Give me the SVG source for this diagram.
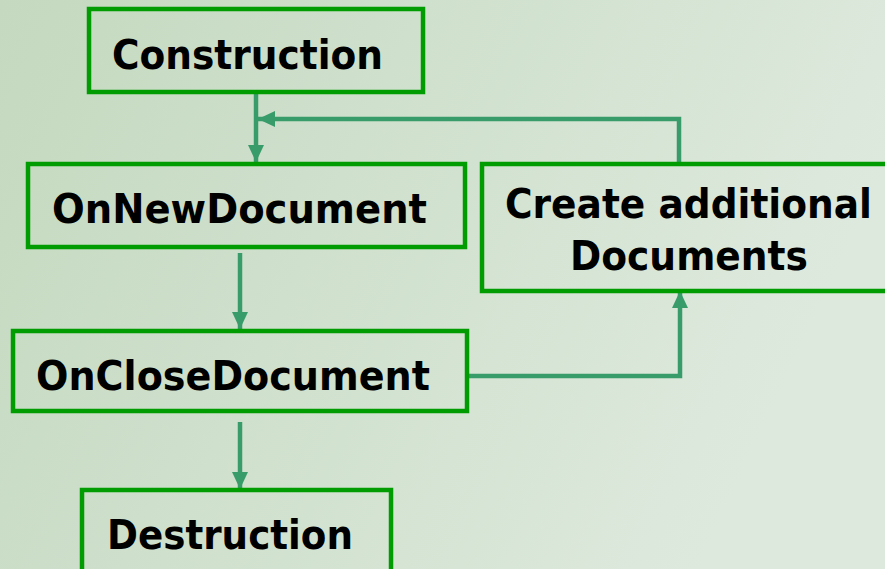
<svg xmlns="http://www.w3.org/2000/svg" width="885" height="569" viewBox="0 0 885 569">
<defs>
<linearGradient id="bg" x1="0" y1="0" x2="1" y2="0.3">
<stop offset="0" stop-color="#c4d9bf"/>
<stop offset="1" stop-color="#dde9dd"/>
</linearGradient>
<marker id="ah" markerUnits="userSpaceOnUse" markerWidth="18" markerHeight="16" refX="17" refY="8" orient="auto">
<path d="M0,0 L17,8 L0,16 Z" fill="#389c6a"/>
</marker>
<style>
.box{fill:none;stroke:#019c01;stroke-width:4.5}
.lbl{font-family:"DejaVu Sans",Verdana,sans-serif;font-weight:bold;font-size:41px;fill:#000}
.con{fill:none;stroke:#389c6a;stroke-width:4.5}
</style>
</defs>
<rect x="0" y="0" width="885" height="569" fill="url(#bg)"/>
<g id="connectors">
<path class="con" d="M256,94 L256,162" marker-end="url(#ah)"/>
<path class="con" d="M679,162 L679,119 L258,119" marker-end="url(#ah)"/>
<path class="con" d="M240,253 L240,329" marker-end="url(#ah)"/>
<path class="con" d="M468,376 L680,376 L680,291" marker-end="url(#ah)"/>
<path class="con" d="M240,422 L240,489" marker-end="url(#ah)"/>
</g>
<g id="construction">
<rect class="box" x="89" y="9" width="334" height="83"/>
<text class="lbl" x="112" y="69" textLength="271" lengthAdjust="spacingAndGlyphs">Construction</text>
</g>
<g id="onnewdocument">
<rect class="box" x="28" y="164" width="437" height="83"/>
<text class="lbl" x="52" y="223" textLength="375" lengthAdjust="spacingAndGlyphs">OnNewDocument</text>
</g>
<g id="onclosedocument">
<rect class="box" x="13" y="331" width="454" height="80"/>
<text class="lbl" x="36" y="390" textLength="394" lengthAdjust="spacingAndGlyphs">OnCloseDocument</text>
</g>
<g id="createadditional">
<rect class="box" x="482" y="164" width="412" height="127"/>
<text class="lbl" x="505" y="218" textLength="367" lengthAdjust="spacingAndGlyphs">Create additional</text>
<text class="lbl" x="570" y="270" textLength="238" lengthAdjust="spacingAndGlyphs">Documents</text>
</g>
<g id="destruction">
<rect class="box" x="82" y="490" width="309" height="90"/>
<text class="lbl" x="107" y="549" textLength="246" lengthAdjust="spacingAndGlyphs">Destruction</text>
</g>
</svg>
